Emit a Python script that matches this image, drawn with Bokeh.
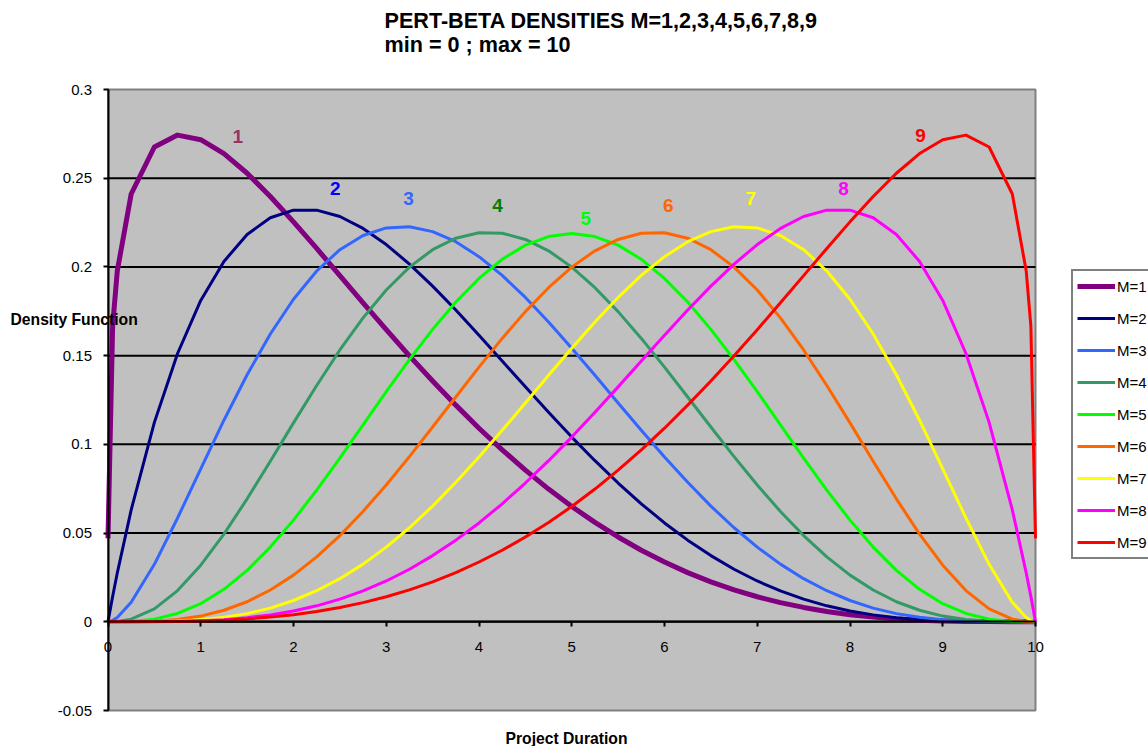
from bokeh.plotting import figure
from bokeh.models import (Range1d, FixedTicker, CustomJSTickFormatter, Legend, LegendItem,
                          LinearAxis, Label)
from bokeh.core.properties import value
from bokeh.embed import file_html
from bokeh.resources import INLINE

# ---------------- data ----------------
X = [0.0, 0.05, 0.1, 0.25, 0.5, 0.75, 1.0, 1.25, 1.5, 1.75, 2.0, 2.25, 2.5, 2.75,
     3.0, 3.25, 3.5, 3.75, 4.0, 4.25, 4.5, 4.75, 5.0, 5.25, 5.5, 5.75, 6.0, 6.25,
     6.5, 6.75, 7.0, 7.25, 7.5, 7.75, 8.0, 8.25, 8.5, 8.75, 9.0, 9.25, 9.5, 9.75,
     9.9, 9.95, 10.0]

M1 = [0.047, 0.1667, 0.1977, 0.2411, 0.2676, 0.2743, 0.2717, 0.2639, 0.2528, 0.2397,
      0.2254, 0.2104, 0.1951, 0.1798, 0.1646, 0.1499, 0.1357, 0.1221, 0.1091, 0.0969,
      0.0855, 0.0748, 0.0650, 0.0560, 0.0478, 0.0403, 0.0337, 0.0277, 0.0225, 0.0180,
      0.0141, 0.0108, 0.0081, 0.0058, 0.0040, 0.0027, 0.0016, 0.0009, 0.0005, 0.0002,
      0.0001, 0.0, 0.0, 0.0, 0.0]
M2 = [0.0, 0.0143, 0.0275, 0.0631, 0.1124, 0.1512, 0.1811, 0.2031, 0.2183, 0.2277,
      0.2320, 0.2320, 0.2284, 0.2217, 0.2126, 0.2016, 0.1892, 0.1757, 0.1615, 0.1470,
      0.1324, 0.1181, 0.1041, 0.0908, 0.0782, 0.0665, 0.0557, 0.0460, 0.0373, 0.0296,
      0.0230, 0.0174, 0.0128, 0.0090, 0.0061, 0.0039, 0.0023, 0.0012, 0.0006, 0.0002,
      0.0, 0.0, 0.0, 0.0, 0.0]
M3 = [0.0, 0.0008, 0.0024, 0.0110, 0.0324, 0.0585, 0.0862, 0.1136, 0.1392, 0.1622,
      0.1818, 0.1977, 0.2097, 0.2177, 0.2220, 0.2226, 0.2199, 0.2142, 0.2058, 0.1952,
      0.1828, 0.1690, 0.1542, 0.1389, 0.1233, 0.1079, 0.0929, 0.0786, 0.0652, 0.0530,
      0.0421, 0.0325, 0.0243, 0.0175, 0.0120, 0.0077, 0.0046, 0.0025, 0.0012, 0.0004,
      0.0001, 0.0, 0.0, 0.0, 0.0]
M4 = [0.0, 0.0, 0.0002, 0.0015, 0.0073, 0.0176, 0.0319, 0.0494, 0.0693, 0.0905,
      0.1121, 0.1332, 0.1532, 0.1713, 0.1870, 0.1999, 0.2097, 0.2162, 0.2193, 0.2190,
      0.2155, 0.2091, 0.1999, 0.1883, 0.1748, 0.1597, 0.1435, 0.1267, 0.1098, 0.0931,
      0.0771, 0.0622, 0.0486, 0.0366, 0.0263, 0.0179, 0.0113, 0.0065, 0.0032, 0.0013,
      0.0003, 0.0, 0.0, 0.0, 0.0]
M5 = [0.0, 0.0, 0.0, 0.0002, 0.0015, 0.0047, 0.0102, 0.0183, 0.0290, 0.0421,
      0.0573, 0.0742, 0.0923, 0.1110, 0.1297, 0.1478, 0.1648, 0.1802, 0.1935, 0.2043,
      0.2123, 0.2171, 0.2188, 0.2171, 0.2123, 0.2043, 0.1935, 0.1802, 0.1648, 0.1478,
      0.1297, 0.1110, 0.0923, 0.0742, 0.0573, 0.0421, 0.0290, 0.0183, 0.0102, 0.0047,
      0.0015, 0.0002, 0.0, 0.0, 0.0]
M6 = [0.0, 0.0, 0.0, 0.0, 0.0003, 0.0013, 0.0032, 0.0065, 0.0113, 0.0179,
      0.0263, 0.0366, 0.0486, 0.0622, 0.0771, 0.0931, 0.1098, 0.1267, 0.1435, 0.1597,
      0.1748, 0.1883, 0.1999, 0.2091, 0.2155, 0.2190, 0.2193, 0.2162, 0.2097, 0.1999,
      0.1870, 0.1713, 0.1532, 0.1332, 0.1121, 0.0905, 0.0693, 0.0494, 0.0319, 0.0176,
      0.0073, 0.0015, 0.0002, 0.0, 0.0]
M7 = [0.0, 0.0, 0.0, 0.0, 0.0001, 0.0004, 0.0012, 0.0025, 0.0046, 0.0077,
      0.0120, 0.0175, 0.0243, 0.0325, 0.0421, 0.0530, 0.0652, 0.0786, 0.0929, 0.1079,
      0.1233, 0.1389, 0.1542, 0.1690, 0.1828, 0.1952, 0.2058, 0.2142, 0.2199, 0.2226,
      0.2220, 0.2177, 0.2097, 0.1977, 0.1818, 0.1622, 0.1392, 0.1136, 0.0862, 0.0585,
      0.0324, 0.0110, 0.0024, 0.0008, 0.0]
M8 = [0.0, 0.0, 0.0, 0.0, 0.0, 0.0002, 0.0006, 0.0012, 0.0023, 0.0039,
      0.0061, 0.0090, 0.0128, 0.0174, 0.0230, 0.0296, 0.0373, 0.0460, 0.0557, 0.0665,
      0.0782, 0.0908, 0.1041, 0.1181, 0.1324, 0.1470, 0.1615, 0.1757, 0.1892, 0.2016,
      0.2126, 0.2217, 0.2284, 0.2320, 0.2320, 0.2277, 0.2183, 0.2031, 0.1811, 0.1512,
      0.1124, 0.0631, 0.0275, 0.0143, 0.0]
M9 = [0.0, 0.0, 0.0, 0.0, 0.0001, 0.0002, 0.0005, 0.0009, 0.0016, 0.0027,
      0.0040, 0.0058, 0.0081, 0.0108, 0.0141, 0.0180, 0.0225, 0.0277, 0.0337, 0.0403,
      0.0478, 0.0560, 0.0650, 0.0748, 0.0855, 0.0969, 0.1091, 0.1221, 0.1357, 0.1499,
      0.1646, 0.1798, 0.1951, 0.2104, 0.2254, 0.2397, 0.2528, 0.2639, 0.2717, 0.2743,
      0.2676, 0.2411, 0.1977, 0.1667, 0.047]

SERIES = [M1, M2, M3, M4, M5, M6, M7, M8, M9]
SERIES_NAMES = ["M=1", "M=2", "M=3", "M=4", "M=5", "M=6", "M=7", "M=8", "M=9"]

CURVE_LABELS = ["1", "2", "3", "4", "5", "6", "7", "8", "9"]
CURVE_LABEL_X = [1.40, 2.45, 3.24, 4.20, 5.15, 6.04, 6.93, 7.93, 8.76]
CURVE_LABEL_Y = [0.2733, 0.2440, 0.2384, 0.2345, 0.2271, 0.2345, 0.2384, 0.2440, 0.2739]

X_MIN, X_MAX = 0, 10
Y_MIN, Y_MAX = -0.05, 0.3
X_TICKS = [0, 1, 2, 3, 4, 5, 6, 7, 8, 9, 10]
Y_TICKS = [-0.05, 0.0, 0.05, 0.1, 0.15, 0.2, 0.25, 0.3]
Y_GRID = [0.0, 0.05, 0.1, 0.15, 0.2, 0.25]

TITLE_LINES = ["PERT-BETA DENSITIES M=1,2,3,4,5,6,7,8,9", "min = 0 ; max = 10"]
Y_TITLE = "Density Function"
X_TITLE = "Project Duration"

# ---------------- styles / layout ----------------
COLORS = ["#800080", "#000080", "#3366FF", "#339966", "#00FF00",
          "#FF6600", "#FFFF00", "#FF00FF", "#FF0000"]
LABEL_COLORS = ["#993366", "#0000FF", "#3366FF", "#008000", "#00FF00",
                "#FF6600", "#FFFF00", "#FF00FF", "#FF0000"]
WIDTHS = [5, 3, 3, 3, 3, 3, 3, 3, 3]
FONT = "Liberation Sans"

W, H = 1148, 746
AREA_LEFT, AREA_RIGHT, AREA_TOP, AREA_BOTTOM = 107.5, 1035.0, 89.0, 710.0
PX_X = (AREA_RIGHT - AREA_LEFT) / (X_MAX - X_MIN)
PX_Y = (AREA_BOTTOM - AREA_TOP) / (Y_MAX - Y_MIN)

x_range = Range1d(X_MIN - AREA_LEFT / PX_X, X_MAX + (W - AREA_RIGHT) / PX_X)
y_range = Range1d(Y_MIN - (H - AREA_BOTTOM) / PX_Y, Y_MAX + AREA_TOP / PX_Y)

p = figure(width=W, height=H, x_range=x_range, y_range=y_range,
           output_backend="svg", toolbar_location=None, title=None,
           x_axis_location=None, y_axis_location=None)
p.min_border_left = 0
p.min_border_right = 0
p.min_border_top = 0
p.min_border_bottom = 0
p.background_fill_color = "white"
p.border_fill_color = "white"
p.outline_line_color = None
p.grid.visible = False

# plot area
p.quad(left=[X_MIN], right=[X_MAX], bottom=[Y_MIN], top=[Y_MAX],
       fill_color="#C0C0C0", line_color="#808080", line_width=2)
# horizontal grid lines
p.segment(x0=[X_MIN] * len(Y_GRID), x1=[X_MAX] * len(Y_GRID), y0=Y_GRID, y1=Y_GRID,
          line_color="black", line_width=2)

yax = LinearAxis(fixed_location=X_MIN, bounds=(Y_MIN, Y_MAX),
                 ticker=FixedTicker(ticks=Y_TICKS),
                 formatter=CustomJSTickFormatter(code="return String(Math.round(tick*100)/100);"))
yax.axis_line_color = "black"
yax.axis_line_width = 2
yax.major_tick_in = 0
yax.major_tick_out = 5
yax.major_tick_line_width = 2
yax.major_tick_line_color = "black"
yax.minor_tick_line_color = None
yax.major_label_text_font = FONT
yax.major_label_text_font_size = "15px"
yax.major_label_text_color = "black"
yax.major_label_standoff = 11
p.add_layout(yax, "left")

xax = LinearAxis(fixed_location=0, bounds=(X_MIN, X_MAX), ticker=FixedTicker(ticks=X_TICKS))
xax.axis_line_color = "black"
xax.axis_line_width = 2
xax.major_tick_in = 0
xax.major_tick_out = 5
xax.major_tick_line_width = 2
xax.major_tick_line_color = "black"
xax.minor_tick_line_color = None
xax.major_label_text_font = FONT
xax.major_label_text_font_size = "15px"
xax.major_label_text_color = "black"
xax.major_label_standoff = 15
p.add_layout(xax, "below")

renderers = []
for ys, c, w in zip(SERIES, COLORS, WIDTHS):
    r = p.line(X, ys, line_color=c, line_width=w, line_join="round")
    renderers.append(r)

p.text(x=CURVE_LABEL_X, y=CURVE_LABEL_Y, text=CURVE_LABELS, text_color=LABEL_COLORS,
       text_font=value(FONT), text_font_style="bold", text_font_size="19px",
       text_align="center", text_baseline="middle")


def screen_label(text, px, py, size, bold, align):
    p.add_layout(Label(x=px, y=H - py, x_units="screen", y_units="screen", text=text,
                       text_font=FONT, text_font_size=size,
                       text_font_style="bold" if bold else "normal",
                       text_color="black", text_align=align, text_baseline="middle"))


screen_label(TITLE_LINES[0], 384, 20, "21.6px", True, "left")
screen_label(TITLE_LINES[1], 384, 44, "21.6px", True, "left")
screen_label(Y_TITLE, 10, 319, "15.7px", True, "left")
screen_label(X_TITLE, 566, 738, "15.7px", True, "center")

legend = Legend(items=[LegendItem(label=n, renderers=[r]) for n, r in zip(SERIES_NAMES, renderers)],
                location=(1071, H - 559), glyph_width=38, glyph_height=22, label_height=22,
                spacing=10, padding=4, margin=0, label_standoff=2,
                border_line_color="black", border_line_width=2,
                background_fill_color="white", background_fill_alpha=1.0,
                label_text_font=FONT, label_text_font_size="15px", label_text_color="black")
p.add_layout(legend)

open("out.html", "w").write(file_html(p, INLINE))
